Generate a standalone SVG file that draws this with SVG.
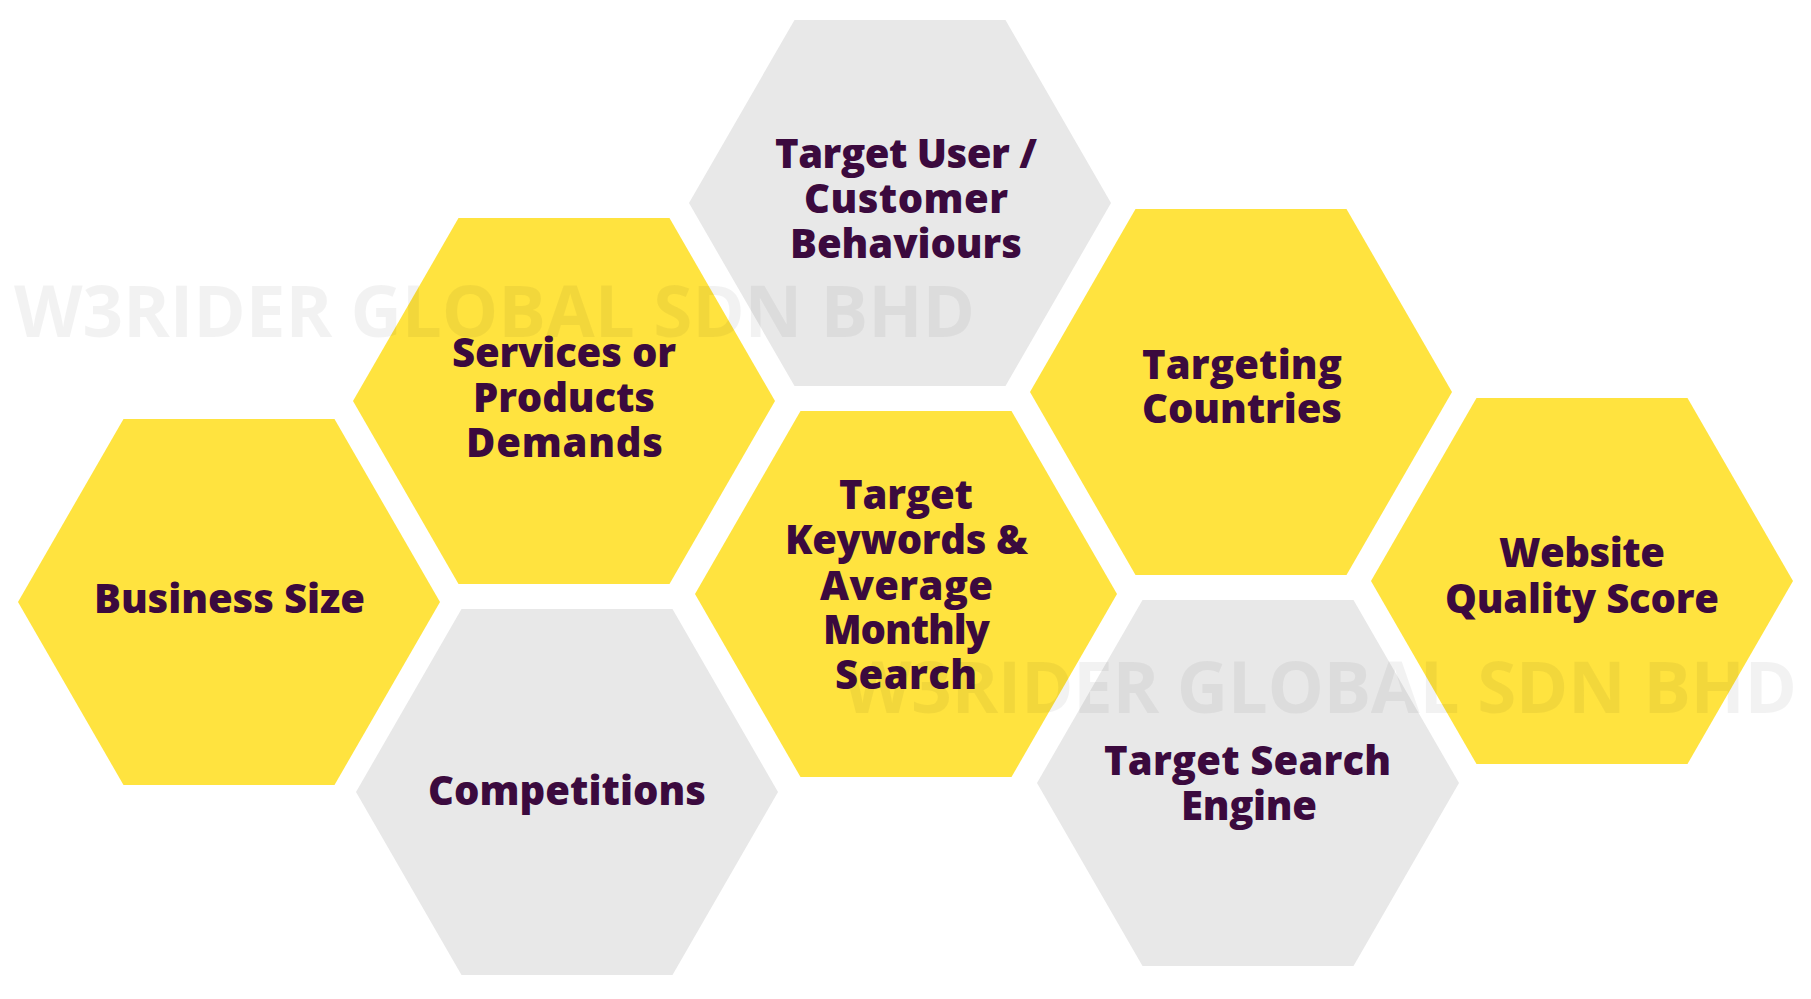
<svg xmlns="http://www.w3.org/2000/svg" xmlns:xlink="http://www.w3.org/1999/xlink" width="1811" height="999" viewBox="0 0 1811 999">
<style>
.y{fill:#FFE33F}
.g{fill:#E8E8E8}
.t{font-family:"Open Sans","Liberation Sans",sans-serif;font-weight:800;font-size:40px;fill:#3B0A3E;text-anchor:middle}
.wm{font-family:"Open Sans","Liberation Sans",sans-serif;font-weight:700;font-size:71px;fill:#000;fill-opacity:0.05}
</style>
<defs>
<polygon id="hex" points="-211,0 -105.5,-183 105.5,-183 211,0 105.5,183 -105.5,183"/>
</defs>
<rect width="1811" height="999" fill="#FFFFFF"/>
<g id="node-business-size">
<use xlink:href="#hex" href="#hex" x="229" y="602" class="y"/>
<text class="t" x="229.5" y="613" textLength="271">Business Size</text>
</g>
<g id="node-services">
<use xlink:href="#hex" href="#hex" x="564" y="401" class="y"/>
<text class="t" x="564" y="367" textLength="224">Services or</text>
<text class="t" x="564" y="412" textLength="182">Products</text>
<text class="t" x="564.5" y="457" textLength="197">Demands</text>
</g>
<g id="node-target-user">
<use xlink:href="#hex" href="#hex" x="900" y="203" class="g"/>
<text class="t" x="906" y="168" textLength="262">Target User /</text>
<text class="t" x="906" y="213" textLength="204">Customer</text>
<text class="t" x="906" y="258" textLength="232">Behaviours</text>
</g>
<g id="node-keywords">
<use xlink:href="#hex" href="#hex" x="906" y="594" class="y"/>
<text class="t" x="906" y="509" textLength="134">Target</text>
<text class="t" x="906.5" y="554" textLength="243">Keywords &amp;</text>
<text class="t" x="906.5" y="600" textLength="173">Average</text>
<text class="t" x="906.5" y="644" textLength="167">Monthly</text>
<text class="t" x="906" y="689" textLength="142">Search</text>
</g>
<g id="node-competitions">
<use xlink:href="#hex" href="#hex" x="567" y="792" class="g"/>
<text class="t" x="567" y="805" textLength="278">Competitions</text>
</g>
<g id="node-targeting-countries">
<use xlink:href="#hex" href="#hex" x="1241" y="392" class="y"/>
<text class="t" x="1242" y="379" textLength="200">Targeting</text>
<text class="t" x="1242" y="423" textLength="200">Countries</text>
</g>
<g id="node-search-engine">
<use xlink:href="#hex" href="#hex" x="1248" y="783" class="g"/>
<text class="t" x="1247.5" y="775" textLength="287">Target Search</text>
<text class="t" x="1249" y="820" textLength="136">Engine</text>
</g>
<g id="node-website">
<use xlink:href="#hex" href="#hex" x="1582" y="581" class="y"/>
<text class="t" x="1582" y="567" textLength="166">Website</text>
<text class="t" x="1582" y="613" textLength="274">Quality Score</text>
</g>
<g id="connectors"/>
<g id="watermarks">
<text class="wm" x="14" y="337" textLength="961">W3RIDER GLOBAL SDN BHD</text>
<text class="wm" x="843" y="713" textLength="954">W3RIDER GLOBAL SDN BHD</text>
</g>
</svg>
